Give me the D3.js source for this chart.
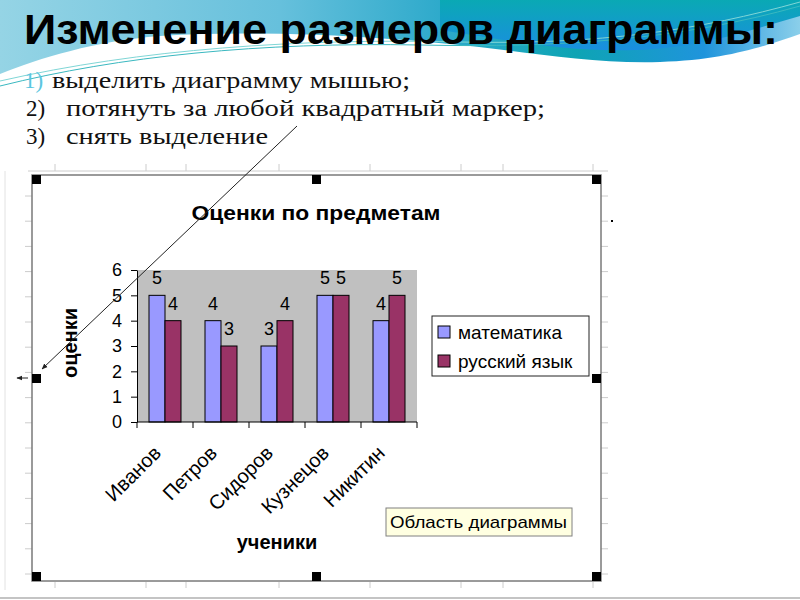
<!DOCTYPE html>
<html>
<head>
<meta charset="utf-8">
<script src="https://cdn.jsdelivr.net/npm/d3@7"></script>
<style>
  body { margin: 0; background: #fff; }
  svg { display: block; }
</style>
</head>
<body>
<div id="slide"></div>
<script>
// data
const students = ["Иванов", "Петров", "Сидоров", "Кузнецов", "Никитин"];
const mathGrades = [5, 4, 3, 5, 4];
const russianGrades = [4, 3, 4, 5, 5];
const seriesNames = ["математика", "русский язык"];
const seriesColors = ["#9999FF", "#993366"];
const yTicks = [0, 1, 2, 3, 4, 5, 6];
const steps = ["выделить диаграмму мышью;", "потянуть за любой квадратный маркер;", "снять выделение"];
const stepNums = ["1)", "2)", "3)"];

const rows = students.map((s, i) => ({ student: s, values: [mathGrades[i], russianGrades[i]] }));

const SANS = "'Liberation Sans', Arial, sans-serif";
const SERIF = "'Liberation Serif', 'DejaVu Serif', serif";

const svg = d3
  .select("#slide")
  .append("svg")
  .attr("width", 800)
  .attr("height", 600);

const defs = svg.append("defs");

// header wave
const band = defs.append("linearGradient").attr("id", "band").attr("x1", "0%").attr("x2", "100%");
[["0%", "#95d4e5"], ["35%", "#66c0dc"], ["55%", "#2eaacb"], ["72%", "#0ea4b4"], ["88%", "#1f94dc"], ["100%", "#8bcfea"]]
  .forEach(([o, c]) => band.append("stop").attr("offset", o).attr("stop-color", c));
const deep = defs.append("linearGradient").attr("id", "deep").attr("x1", "0%").attr("y1", "0%").attr("x2", "0%").attr("y2", "100%");
[["0%", "#0aa9b4"], ["100%", "#1a8ee0"]].forEach(([o, c]) => deep.append("stop").attr("offset", o).attr("stop-color", c));

defs.append("marker")
  .attr("id", "arrow")
  .attr("viewBox", "0 0 10 10")
  .attr("refX", 9)
  .attr("refY", 5)
  .attr("markerWidth", 6)
  .attr("markerHeight", 6)
  .attr("orient", "auto")
  .append("path")
  .attr("d", "M0,1L10,5L0,9Z")
  .attr("fill", "#222");

svg.append("path")
  .attr("d", "M0,0H800V34C770,44 730,60 660,62C590,64 530,52 460,45C370,36 260,30 160,36C95,41 40,58 0,74Z")
  .attr("fill", "url(#band)");
svg.append("path")
  .attr("d", "M440,0H800V16C750,30 700,48 635,50C565,52 505,40 440,30Z")
  .attr("fill", "url(#deep)");
svg.append("path")
  .attr("d", "M0,86C120,56 260,42 420,45C560,48 680,40 800,6")
  .attr("fill", "none").attr("stroke", "#3ab8c0").attr("stroke-width", 1);
svg.append("path")
  .attr("d", "M0,81C140,49 300,38 460,42C600,45 700,30 800,2")
  .attr("fill", "none").attr("stroke", "#7fd6d6").attr("stroke-width", 1);

svg.append("text")
  .text("Изменение размеров диаграммы:")
  .attr("x", 24)
  .attr("y", 44)
  .attr("textLength", 754)
  .attr("lengthAdjust", "spacingAndGlyphs")
  .style("font-family", SANS)
  .style("font-weight", "bold")
  .style("font-size", "43px")
  .style("fill", "#000");

// numbered steps
const stepX = [52, 66, 66];
const stepLen = [358, 479, 202];
const stepY = [88, 116, 144];
svg.selectAll(".num")
  .data(stepNums)
  .enter()
  .append("text")
  .attr("class", "num")
  .text((d) => d)
  .attr("x", (d, i) => (i === 0 ? 24 : 26))
  .attr("y", (d, i) => stepY[i])
  .style("font-family", SERIF)
  .style("font-size", "23px")
  .style("fill", (d, i) => (i === 0 ? "#5cc6e0" : "#111"));
svg.selectAll(".step")
  .data(steps)
  .enter()
  .append("text")
  .attr("class", "step")
  .text((d) => d)
  .attr("x", (d, i) => stepX[i])
  .attr("y", (d, i) => stepY[i])
  .attr("textLength", (d, i) => stepLen[i])
  .attr("lengthAdjust", "spacingAndGlyphs")
  .style("font-family", SERIF)
  .style("font-size", "24px")
  .style("fill", "#111");

// faint sheet grid around the chart object
const grid = svg.append("g").attr("stroke", "#cccccc").attr("stroke-width", 1);
grid.append("line").attr("x1", 28).attr("x2", 608).attr("y1", 171).attr("y2", 171);
const colTicks = [55, 146, 186, 279, 370, 461, 503, 593];
colTicks.forEach((cx) => {
  grid.append("line").attr("x1", cx).attr("x2", cx).attr("y1", 164).attr("y2", 171);
  grid.append("line").attr("x1", cx).attr("x2", cx).attr("y1", 582).attr("y2", 588);
});
d3.range(196, 580, 25.2).forEach((ry) => {
  grid.append("line").attr("x1", 601).attr("x2", 608).attr("y1", ry).attr("y2", ry);
  grid.append("line").attr("x1", 25).attr("x2", 32).attr("y1", ry).attr("y2", ry);
});
grid.append("line").attr("x1", 5).attr("x2", 5).attr("y1", 171).attr("y2", 590).attr("stroke", "#e2e2e2");
svg.append("line").attr("x1", 0).attr("x2", 800).attr("y1", 598).attr("y2", 598)
  .attr("stroke", "#b0b0b0").attr("stroke-width", 1.5);

// chart frame
svg.append("rect")
  .attr("x", 32).attr("y", 175).attr("width", 569).attr("height", 406)
  .attr("fill", "#fff").attr("stroke", "#7a7a7a").attr("stroke-width", 1.5);

const x = d3.scaleBand().domain(students).range([137, 417]);
const xs = d3.scaleBand().domain([0, 1]).range([0, x.bandwidth()]).paddingOuter(0.75);
const y = d3.scaleLinear().domain([0, 6]).range([422, 270]);

svg.append("rect")
  .attr("x", x.range()[0]).attr("y", y(6))
  .attr("width", x.range()[1] - x.range()[0]).attr("height", y(0) - y(6))
  .attr("fill", "#c0c0c0");

const groups = svg.selectAll(".grp")
  .data(rows)
  .enter()
  .append("g")
  .attr("class", "grp")
  .attr("transform", (d) => `translate(${x(d.student)},0)`);

groups.selectAll("rect")
  .data((d) => d.values)
  .enter()
  .append("rect")
  .attr("x", (d, i) => xs(i))
  .attr("y", (d) => y(d))
  .attr("width", xs.bandwidth())
  .attr("height", (d) => y(0) - y(d))
  .style("fill", (d, i) => seriesColors[i])
  .style("stroke", "#000")
  .style("stroke-width", 1);

groups.selectAll("text")
  .data((d) => d.values)
  .enter()
  .append("text")
  .text((d) => d)
  .attr("x", (d, i) => xs(i) + xs.bandwidth() / 2)
  .attr("y", (d) => y(d) - 11)
  .attr("text-anchor", "middle")
  .style("font-family", SANS)
  .style("font-size", "18px");

// axes
const yAxis = svg.append("g")
  .attr("transform", `translate(${x.range()[0]},0)`)
  .call(d3.axisLeft(y).tickValues(yTicks).tickFormat(d3.format("d")).tickSize(6).tickSizeOuter(0).tickPadding(9));
yAxis.attr("font-family", SANS).attr("font-size", 18);
yAxis.selectAll("line, path").attr("stroke", "#000");

svg.append("line")
  .attr("x1", x.range()[0]).attr("x2", x.range()[1])
  .attr("y1", y(0)).attr("y2", y(0))
  .attr("stroke", "#000");
svg.selectAll(".xtick")
  .data(students.map((s) => x(s)).concat([x.range()[1]]))
  .enter()
  .append("line")
  .attr("class", "xtick")
  .attr("x1", (d) => d).attr("x2", (d) => d)
  .attr("y1", y(0)).attr("y2", y(0) + 6)
  .attr("stroke", "#000");

svg.selectAll(".xlabel")
  .data(students)
  .enter()
  .append("text")
  .attr("class", "xlabel")
  .text((d) => d)
  .attr("transform", (d) => `translate(${x(d) + x.bandwidth() / 2 - 13},444) rotate(-45)`)
  .attr("text-anchor", "end")
  .attr("dy", "0.72em")
  .style("font-family", SANS)
  .style("font-size", "20px");

// titles
svg.append("text")
  .text("Оценки по предметам")
  .attr("x", 316).attr("y", 220)
  .attr("text-anchor", "middle")
  .attr("textLength", 249)
  .attr("lengthAdjust", "spacingAndGlyphs")
  .style("font-family", SANS).style("font-weight", "bold").style("font-size", "20px");
svg.append("text")
  .text("ученики")
  .attr("x", 277).attr("y", 549)
  .attr("text-anchor", "middle")
  .style("font-family", SANS).style("font-weight", "bold").style("font-size", "20px");
svg.append("text")
  .text("оценки")
  .attr("transform", "translate(77,343) rotate(-90)")
  .attr("text-anchor", "middle")
  .style("font-family", SANS).style("font-weight", "bold").style("font-size", "20px");

// legend
const legend = svg.append("g").attr("transform", "translate(432,316)");
legend.append("rect")
  .attr("width", 157).attr("height", 60)
  .attr("fill", "#fff").attr("stroke", "#222").attr("stroke-width", 1);
const items = legend.selectAll(".item")
  .data(seriesNames)
  .enter()
  .append("g")
  .attr("class", "item")
  .attr("transform", (d, i) => `translate(6,${10 + i * 29})`);
items.append("rect")
  .attr("width", 12).attr("height", 12)
  .style("fill", (d, i) => seriesColors[i])
  .style("stroke", "#000");
items.append("text")
  .text((d) => d)
  .attr("x", 20).attr("y", 6)
  .attr("dy", "0.36em")
  .style("font-family", SANS).style("font-size", "19px");

// tooltip
svg.append("rect")
  .attr("x", 386).attr("y", 508).attr("width", 186).attr("height", 28)
  .attr("fill", "#ffffe1").attr("stroke", "#808080");
svg.append("text")
  .text("Область диаграммы")
  .attr("x", 390).attr("y", 528)
  .attr("textLength", 177)
  .attr("lengthAdjust", "spacingAndGlyphs")
  .style("font-family", SANS).style("font-size", "17px");

// selection handles
const handles = [[32, 175], [312, 175], [592, 175], [32, 374], [592, 374], [32, 572], [312, 572], [592, 572]];
svg.selectAll(".handle")
  .data(handles)
  .enter()
  .append("rect")
  .attr("class", "handle")
  .attr("x", (d) => d[0]).attr("y", (d) => d[1])
  .attr("width", 9).attr("height", 9)
  .attr("fill", "#000");

// pointer line and resize arrow
svg.append("line")
  .attr("x1", 297).attr("y1", 126).attr("x2", 42).attr("y2", 369)
  .attr("stroke", "#222").attr("stroke-width", 1)
  .attr("marker-end", "url(#arrow)");
svg.append("line")
  .attr("x1", 28).attr("y1", 378).attr("x2", 17).attr("y2", 378)
  .attr("stroke", "#222").attr("stroke-width", 1)
  .attr("marker-end", "url(#arrow)");
svg.append("rect").attr("x", 611).attr("y", 220).attr("width", 2).attr("height", 2).attr("fill", "#000");
</script>
</body>
</html>
